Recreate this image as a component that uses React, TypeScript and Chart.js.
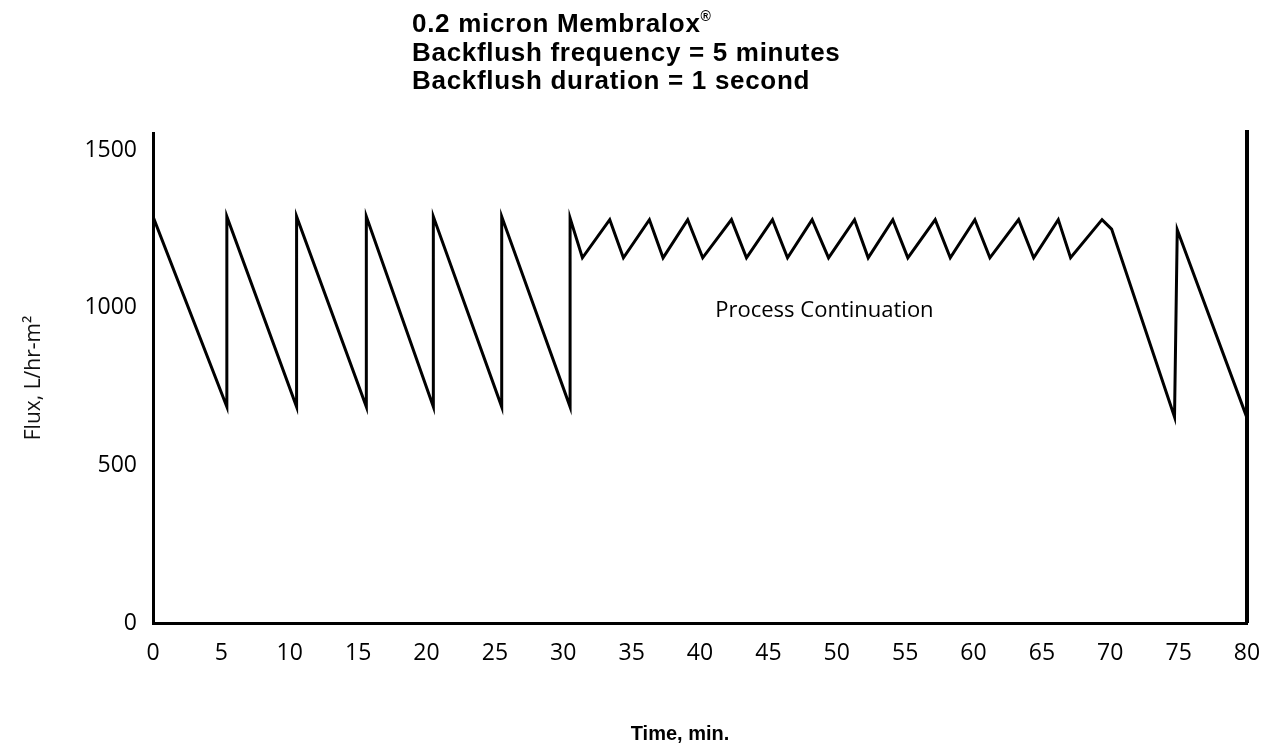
import React, { useEffect, useRef } from "react";
import { Chart, registerables } from "chart.js";

Chart.register(...registerables);

// Time (min) and flux (L/hr-m2)
const timeMin = [
  0, 5.4, 5.4, 10.5, 10.5, 15.6, 15.6, 20.5, 20.5, 25.5, 25.5, 30.5, 30.5,
  31.4, 33.4, 34.4, 36.3, 37.3, 39.1, 40.2, 42.3, 43.4, 45.3, 46.4, 48.2, 49.4,
  51.3, 52.3, 54.1, 55.2, 57.2, 58.3, 60.1, 61.2, 63.3, 64.4, 66.2, 67.1, 69.4,
  70.1, 74.7, 74.9, 80,
];
const flux = [
  1290, 686, 1290, 686, 1290, 686, 1290, 686, 1290, 686, 1290, 686, 1285,
  1159, 1280, 1159, 1280, 1159, 1280, 1159, 1280, 1159, 1280, 1159, 1280, 1159,
  1280, 1159, 1280, 1159, 1280, 1159, 1280, 1159, 1280, 1159, 1280, 1159, 1280,
  1250, 654, 1248, 651,
];

const xTickValues = [0, 5, 10, 15, 20, 25, 30, 35, 40, 45, 50, 55, 60, 65, 70, 75, 80];
const yTickValues = [0, 500, 1000, 1500];

const titleLines = ["0.2 micron Membralox", "Backflush frequency = 5 minutes", "Backflush duration = 1 second"];
const xAxisTitle = "Time, min.";
const yAxisTitle = "Flux, L/hr-m²";
const annotationText = "Process Continuation";
const annotationX = 49.1;
const annotationY = 990;

const TICK_FONT = '"Open Sans", "DejaVu Sans", sans-serif';

const extrasPlugin = {
  id: "extras",
  afterDatasetsDraw(chart: any) {
    const { ctx, chartArea, scales } = chart;
    ctx.save();
    ctx.strokeStyle = "#000";
    ctx.lineWidth = 4;
    ctx.beginPath();
    ctx.moveTo(chartArea.right, chartArea.top - 3);
    ctx.lineTo(chartArea.right, chartArea.bottom);
    ctx.stroke();
    ctx.fillStyle = "#000";
    ctx.font = `22px ${TICK_FONT}`;
    ctx.textAlign = "center";
    ctx.textBaseline = "middle";
    ctx.fillText(
      annotationText,
      scales.x.getPixelForValue(annotationX),
      scales.y.getPixelForValue(annotationY)
    );
    ctx.restore();
  },
};

export default function App() {
  const canvasRef = useRef<HTMLCanvasElement | null>(null);

  useEffect(() => {
    let chart: Chart | null = null;
    let cancelled = false;
    const make = () => {
      if (cancelled || !canvasRef.current) return;
      const points = timeMin.map((t, i) => ({ x: t, y: flux[i] }));
      chart = new Chart(canvasRef.current, {
        type: "line",
        data: {
          datasets: [
            {
              data: points,
              borderColor: "#000",
              borderWidth: 3,
              pointRadius: 0,
              tension: 0,
              fill: false,
              borderJoinStyle: "miter",
            },
          ],
        },
        options: {
          animation: false,
          responsive: false,
          devicePixelRatio: 1,
          layout: { padding: { top: 133, right: 22, left: 0, bottom: 0 } },
          plugins: { legend: { display: false }, tooltip: { enabled: false }, title: { display: false } },
          scales: {
            x: {
              type: "linear",
              min: 0,
              max: 80,
              afterFit: (s: any) => {
                s.height = 120;
                s.paddingLeft = 0;
                s.paddingRight = 0;
              },
              afterBuildTicks: (s: any) => {
                s.ticks = xTickValues.map((v) => ({ value: v }));
              },
              grid: { display: false, drawTicks: false },
              border: { display: true, color: "#000", width: 3 },
              ticks: {
                autoSkip: false,
                maxRotation: 0,
                padding: 17,
                color: "#000",
                font: { family: TICK_FONT, size: 23 },
                callback: (v: any) => String(v),
              },
              title: { display: false },
            },
            y: {
              type: "linear",
              min: 0,
              max: 1555,
              afterFit: (s: any) => {
                s.width = 153;
                s.paddingTop = 0;
                s.paddingBottom = 0;
              },
              afterBuildTicks: (s: any) => {
                s.ticks = yTickValues.map((v) => ({ value: v }));
              },
              grid: { display: false, drawTicks: false },
              border: { display: true, color: "#000", width: 3 },
              ticks: {
                padding: 16,
                color: "#000",
                font: { family: TICK_FONT, size: 23 },
                callback: (v: any) => String(v),
              },
              title: {
                display: true,
                text: yAxisTitle,
                color: "#111",
                font: { family: TICK_FONT, size: 21, weight: "normal" },
                padding: { top: 21, bottom: 0 },
              },
            },
          },
        },
        plugins: [extrasPlugin],
      });
    };
    const fontsReady = (document as any).fonts
      ? Promise.all([
          (document as any).fonts.load(`22px "Open Sans"`),
          (document as any).fonts.load(`bold 18px "Liberation Sans"`),
        ]).catch(() => null)
      : Promise.resolve(null);
    fontsReady.then(make);
    return () => {
      cancelled = true;
      if (chart) chart.destroy();
    };
  }, []);

  return (
    <div style={{ position: "absolute", left: 0, top: 0, width: 1269, height: 743, background: "#fff" }}>
      <canvas ref={canvasRef} width={1269} height={743} style={{ display: "block" }} />
      <div
        style={{
          position: "absolute",
          left: 412,
          top: 9,
          fontFamily: '"Liberation Sans", Arial, sans-serif',
          fontWeight: "bold",
          fontSize: 26,
          lineHeight: "28.5px",
          letterSpacing: "0.7px",
          color: "#000",
          whiteSpace: "nowrap",
        }}
      >
        <div>
          {titleLines[0]}
          <sup style={{ fontSize: 14, verticalAlign: "top", lineHeight: "14px" }}>®</sup>
        </div>
        <div>{titleLines[1]}</div>
        <div>{titleLines[2]}</div>
      </div>
      <div
        style={{
          position: "absolute",
          left: 680,
          top: 721,
          transform: "translateX(-50%)",
          fontFamily: '"Liberation Sans", Arial, sans-serif',
          fontWeight: "bold",
          fontSize: 20,
          lineHeight: "24px",
          color: "#000",
          whiteSpace: "nowrap",
        }}
      >
        {xAxisTitle}
      </div>
    </div>
  );
}
